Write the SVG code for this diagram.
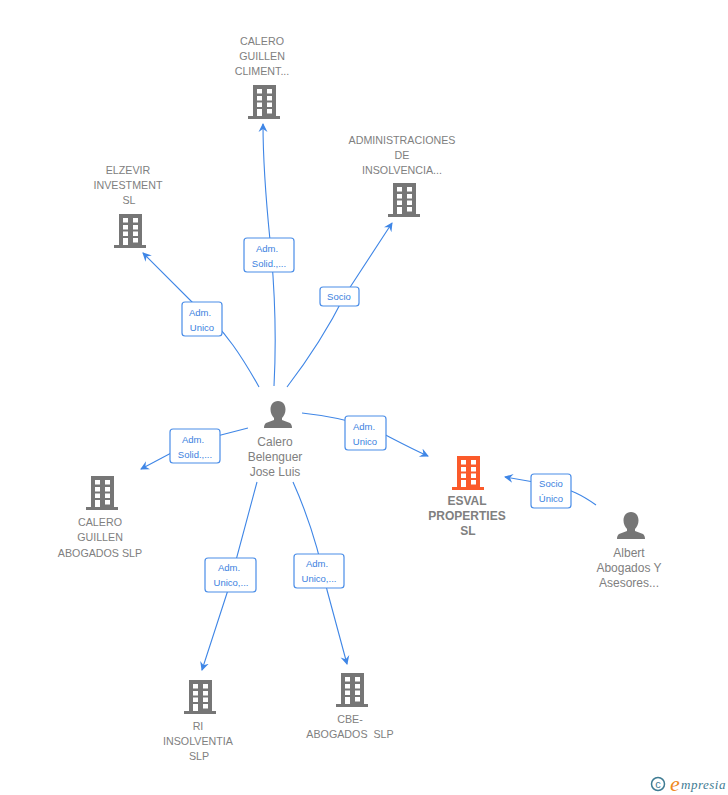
<svg xmlns="http://www.w3.org/2000/svg" width="728" height="795" viewBox="0 0 728 795">
<style>
text{font-family:"Liberation Sans",Arial,sans-serif}
.n{font-size:10.700px;fill:#808080;text-anchor:middle}
.c{font-size:12px}
.b{font-weight:bold;font-size:12px}
.l{font-size:9.500px;fill:#3b7fe0;text-anchor:middle}
.e{fill:none;stroke:#3f86e6;stroke-width:1.100}
.r{fill:#fff;stroke:#4a8de8;stroke-width:1.200}
.g{fill:#767676}
.w{fill:#fff}
.o{fill:#fb5a2a}
</style>
<defs>
<marker id="a" markerWidth="12" markerHeight="12" refX="8" refY="5" orient="auto" markerUnits="userSpaceOnUse"><path d="M0 0.500L9 5L0 9.500L3 5Z" fill="#3f86e6"/></marker>
<g id="wins" class="w"><rect x="9" y="4" width="5" height="4.500"/><rect x="19" y="4" width="5" height="4.500"/><rect x="9" y="11" width="5" height="4.500"/><rect x="19" y="11" width="5" height="4.500"/><rect x="9" y="17.500" width="5" height="4.500"/><rect x="19" y="17.500" width="5" height="4.500"/><rect x="9" y="24" width="5" height="7"/><rect x="19" y="24" width="5" height="4.500"/></g>
<g id="bld"><path d="M5 0H28V31H32V34H0V31H5Z"/><use href="#wins"/></g>
<path id="per" d="M14 0C19 0 21.500 4 21.500 8.500C21.500 12 20 15 18 17V19L26 22C27.500 23 28 25 28 27H0C0 25 .5 23 2 22L10 19V17C8 15 6.500 12 6.500 8.500C6.500 4 9 0 14 0Z"/>
</defs>
<g id="connectors">
<path class="e" marker-end="url(#a)" d="M259 387C245 362 225 328 195 305L143 253"/>
<path class="e" marker-end="url(#a)" d="M274 386C277 330 274 280 270 240C266 200 263 160 263 124"/>
<path class="e" marker-end="url(#a)" d="M287 387C310 357 330 325 345 295L392 223"/>
<path class="e" marker-end="url(#a)" d="M248 428L190 443L141 469"/>
<path class="e" marker-end="url(#a)" d="M302 413C330 416 350 420 372 428C390 437 408 447 428 456"/>
<path class="e" marker-end="url(#a)" d="M257 482L228 590L202 670"/>
<path class="e" marker-end="url(#a)" d="M293 482C310 520 320 555 327 590L347 664"/>
<path class="e" marker-end="url(#a)" d="M596 505C582 495 570 489 551 485L505 477"/>
</g>
<g id="l1"><rect class="r" x="182" y="302" width="40" height="34" rx="3"/><text class="l" x="200" y="315.500">Adm.</text><text class="l" x="202" y="330.500">Unico</text></g>
<g id="l2"><rect class="r" x="244" y="238" width="50" height="34" rx="3"/><text class="l" x="267" y="251.500">Adm.</text><text class="l" x="269" y="266.500">Solid.,...</text></g>
<g id="l3"><rect class="r" x="320" y="287" width="39" height="19" rx="3"/><text class="l" x="339" y="300">Socio</text></g>
<g id="l4"><rect class="r" x="170" y="429" width="50" height="34" rx="3"/><text class="l" x="193" y="442.500">Adm.</text><text class="l" x="195" y="457.500">Solid.,...</text></g>
<g id="l5"><rect class="r" x="345" y="416" width="41" height="34" rx="3"/><text class="l" x="364" y="429.500">Adm.</text><text class="l" x="365" y="444.500">Unico</text></g>
<g id="l6"><rect class="r" x="205" y="558" width="51" height="34" rx="3"/><text class="l" x="229" y="571">Adm.</text><text class="l" x="231" y="586">Unico,...</text></g>
<g id="l7"><rect class="r" x="294" y="554" width="50" height="34" rx="3"/><text class="l" x="317" y="567">Adm.</text><text class="l" x="319" y="582">Unico,...</text></g>
<g id="l8"><rect class="r" x="531" y="474" width="40" height="34" rx="3"/><text class="l" x="551" y="487">Socio</text><text class="l" x="551" y="502">Único</text></g>
<g id="calero-climent"><use href="#bld" class="g" x="248" y="85"/><text class="n" x="262" y="45">CALERO</text><text class="n" x="262" y="60">GUILLEN</text><text class="n" x="262" y="75">CLIMENT...</text></g>
<g id="administraciones"><use href="#bld" class="g" x="388" y="183"/><text class="n" x="402" y="144">ADMINISTRACIONES</text><text class="n" x="402" y="159">DE</text><text class="n" x="402" y="174">INSOLVENCIA...</text></g>
<g id="elzevir"><use href="#bld" class="g" x="114" y="214"/><text class="n" x="128" y="174">ELZEVIR</text><text class="n" x="128" y="189">INVESTMENT</text><text class="n" x="129" y="204">SL</text></g>
<g id="calero-belenguer"><use href="#per" class="g" x="264" y="401"/><text class="n c" x="275" y="446">Calero</text><text class="n c" x="275" y="461">Belenguer</text><text class="n c" x="275" y="476">Jose Luis</text></g>
<g id="calero-abogados"><use href="#bld" class="g" x="86" y="476"/><text class="n" x="100" y="526">CALERO</text><text class="n" x="100" y="541">GUILLEN</text><text class="n" x="100" y="557">ABOGADOS SLP</text></g>
<g id="esval"><use href="#bld" class="o" x="452" y="456"/><text class="n b" x="467" y="505">ESVAL</text><text class="n b" x="467" y="520">PROPERTIES</text><text class="n b" x="468" y="535">SL</text></g>
<g id="albert"><use href="#per" class="g" x="617" y="512"/><text class="n c" x="629" y="557">Albert</text><text class="n c" x="629" y="572">Abogados Y</text><text class="n c" x="629" y="587">Asesores...</text></g>
<g id="ri"><use href="#bld" class="g" x="184" y="680"/><text class="n" x="198" y="730">RI</text><text class="n" x="198" y="745">INSOLVENTIA</text><text class="n" x="199" y="760">SLP</text></g>
<g id="cbe"><use href="#bld" class="g" x="336" y="673"/><text class="n" x="350" y="723">CBE-</text><text class="n" x="350" y="738" xml:space="preserve">ABOGADOS  SLP</text></g>
<g id="logo"><circle cx="658" cy="784" r="6.500" fill="none" stroke="#3f7c93" stroke-width="1.500"/><text x="658" y="788" font-size="11" fill="#3f7c93" text-anchor="middle">c</text><text x="670" y="791" font-size="22" font-style="italic" fill="#f08a1d" style="font-family:'Liberation Serif',serif">e</text><text x="681" y="789" font-size="13" font-style="italic" fill="#3f7c93" style="font-family:'Liberation Serif',serif" letter-spacing=".5">mpresia</text></g>
</svg>
